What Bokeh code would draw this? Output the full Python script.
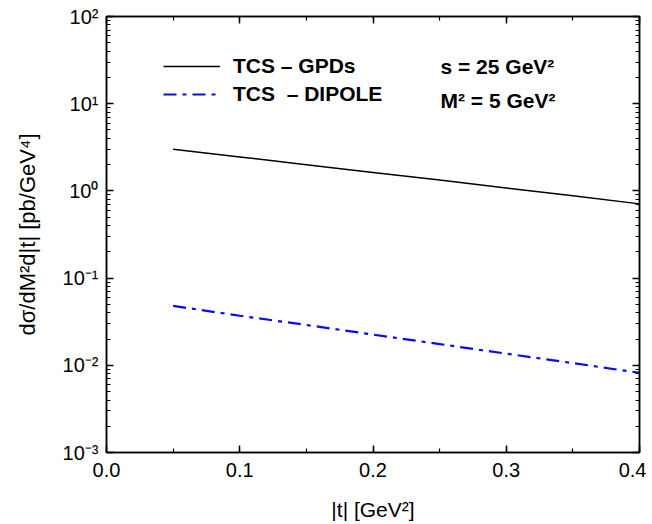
from bokeh.plotting import figure
from bokeh.models import (Range1d, LinearAxis, LogAxis, SingleIntervalTicker, LogTicker,
                          CustomJSTickFormatter, Legend, LegendItem, Label, ColumnDataSource)
from bokeh.embed import file_html
from bokeh.resources import INLINE

# ---- data ----
t_vals = [0.05, 0.10, 0.15, 0.20, 0.25, 0.30, 0.35, 0.40]
gpd_vals = [3.0, 2.45, 2.0, 1.63, 1.33, 1.08, 0.88, 0.71]
dipole_vals = [0.048, 0.037, 0.029, 0.0225, 0.0175, 0.0136, 0.0106, 0.0082]
series_names = ["TCS \u2013 GPDs", "TCS  \u2013 DIPOLE"]
x_ticks = [0.0, 0.1, 0.2, 0.3, 0.4]

FONT = "Liberation Sans"

p = figure(width=646, height=523, y_axis_type="log",
           x_range=Range1d(0.0, 0.4), y_range=Range1d(1e-3, 1e2),
           output_backend="svg", toolbar_location=None,
           min_border_left=106, min_border_right=7, min_border_top=16, min_border_bottom=66)
p.grid.visible = False
p.outline_line_color = "black"
p.outline_line_width = 1.5
p.background_fill_color = "white"
p.border_fill_color = "white"

src = ColumnDataSource(dict(t=t_vals, g=gpd_vals, d=dipole_vals))
r1 = p.line("t", "g", source=src, line_color="black", line_width=1.5)
r2 = p.line("t", "d", source=src, line_color="#0a0af0", line_width=2.2, line_dash="13 6 4 6")

xfmt = CustomJSTickFormatter(code="return tick.toFixed(1);")
yfmt = CustomJSTickFormatter(code="""
const sup = {'-':'\u207b','0':'\u2070','1':'\u00b9','2':'\u00b2','3':'\u00b3','4':'\u2074',
             '5':'\u2075','6':'\u2076','7':'\u2077','8':'\u2078','9':'\u2079'};
const e = Math.round(Math.log10(tick));
return '10' + String(e).split('').map(c => sup[c]).join('');
""")
blank = CustomJSTickFormatter(code="return '';")

def style(ax):
    ax.major_tick_in = 7
    ax.major_tick_out = 0
    ax.minor_tick_in = 4
    ax.minor_tick_out = 0
    ax.axis_line_color = "black"
    ax.axis_line_width = 1.5
    ax.major_tick_line_width = 1.5
    ax.minor_tick_line_width = 1.2
    ax.major_label_text_font = FONT
    ax.major_label_text_font_size = "20px"
    ax.major_label_text_color = "black"
    ax.axis_label_text_font = FONT
    ax.axis_label_text_font_size = "21px"
    ax.axis_label_text_font_style = "normal"
    ax.axis_label_text_color = "black"

xa = p.xaxis[0]
xa.ticker = SingleIntervalTicker(interval=0.1, num_minor_ticks=2)
xa.formatter = xfmt
xa.axis_label = "|t| [GeV\u00b2]"
xa.major_label_standoff = 10
xa.axis_label_standoff = 18
style(xa)

ya = p.yaxis[0]
ya.ticker = LogTicker(num_minor_ticks=10)
ya.formatter = yfmt
ya.axis_label = "d\u03c3/dM\u00b2d|t| [pb/GeV\u2074]"
ya.major_label_standoff = 8
ya.axis_label_standoff = 20
style(ya)
ya.axis_label_text_font_size = "22px"

top = LinearAxis(ticker=SingleIntervalTicker(interval=0.1, num_minor_ticks=2), formatter=blank)
style(top)
top.major_label_standoff = 0
p.add_layout(top, "above")
right = LogAxis(ticker=LogTicker(num_minor_ticks=10), formatter=blank)
style(right)
right.major_label_standoff = 0
p.add_layout(right, "right")

legend = Legend(items=[LegendItem(label=series_names[0], renderers=[r1]),
                       LegendItem(label=series_names[1], renderers=[r2])],
                location=(57, 346), padding=0, margin=0, spacing=4,
                glyph_width=57, glyph_height=20, label_height=20, label_standoff=13,
                label_text_font=FONT, label_text_font_size="21px", label_text_font_style="bold",
                label_text_color="black",
                border_line_color=None, background_fill_alpha=0)
p.add_layout(legend)

for txt, yy in [("s = 25 GeV\u00b2", 375), ("M\u00b2 = 5 GeV\u00b2", 341)]:
    p.add_layout(Label(x=334, y=yy, x_units="screen", y_units="screen", text=txt,
                       text_font=FONT, text_font_size="21px", text_font_style="bold",
                       text_color="black"))

open("out.html", "w").write(file_html(p, INLINE))
